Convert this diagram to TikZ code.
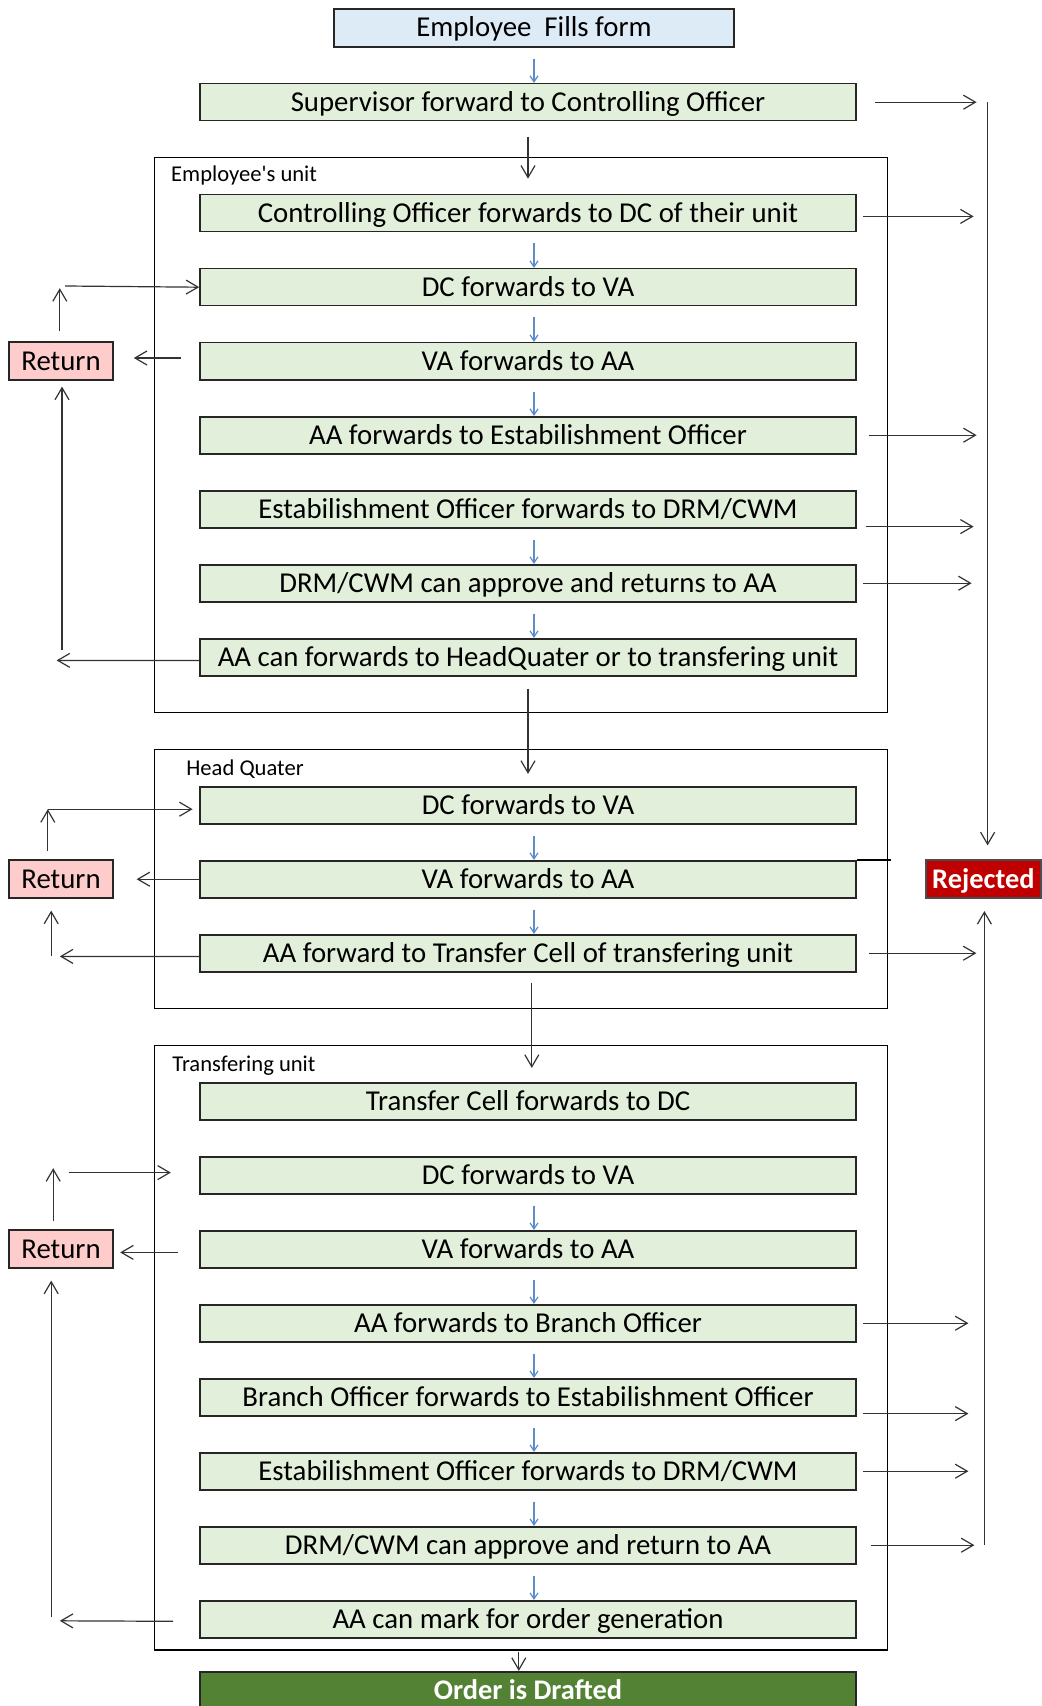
\documentclass[tikz,border=0pt]{standalone}
\usepackage{fontspec}
\setmainfont{Carlito}
\usetikzlibrary{arrows.meta,positioning}

\definecolor{formblue}{HTML}{DDEBF7}
\definecolor{stepgreen}{HTML}{E2EFDA}
\definecolor{retpink}{HTML}{FFCCCC}
\definecolor{rejred}{HTML}{C00000}
\definecolor{ordergreen}{HTML}{548235}
\definecolor{flowblue}{HTML}{5B8DC8}

\begin{document}
\begin{tikzpicture}[
            stepbox/.style={draw=black!85,line width=.8pt,fill=stepgreen,minimum width=328pt,minimum height=18.5pt,inner sep=0pt,text height=11pt,text depth=2pt,font=\fontsize{14.4}{16}\selectfont},
            formbox/.style={stepbox,fill=formblue,minimum width=200pt,minimum height=19pt},
            retbox/.style={stepbox,fill=retpink,minimum width=52pt,minimum height=19pt},
            rejbox/.style={stepbox,draw=black!70,fill=rejred,text=white,font=\fontsize{14.2}{16}\selectfont\bfseries,minimum width=57.6pt,minimum height=19pt},
            orderbox/.style={stepbox,fill=ordergreen,text=white,font=\fontsize{14.2}{16}\selectfont\bfseries},
            unit/.style={draw=black,line width=.7pt},
            lab/.style={anchor=base west,inner sep=0pt,font=\fontsize{11.3}{13}\selectfont},
            arr/.style={draw=black!80,line width=.6pt,-{Straight Barb[length=6pt,width=7pt]}},
            flow/.style={draw=flowblue,line width=.6pt,-{Straight Barb[length=3pt,width=4pt]},shorten <=5.5pt},
            node distance=37pt
          ]
          \useasboundingbox (0,0) rectangle (521pt,-853pt);

          %units
          \draw[unit] (77.2pt,-78.9pt) rectangle (443.8pt,-356.2pt);
          \draw[unit] (77.2pt,-374.7pt) rectangle (443.8pt,-504.2pt);
          \draw[unit] (77.2pt,-522.6pt) rectangle (443.8pt,-825pt);
          \node[lab] (eulab) at (85.4pt,-90.8pt) {Employee\textquotesingle s unit};
          \node[lab] (hqlab) at (93pt,-387.8pt) {Head Quater};
          \node[lab] (tulab) at (86pt,-535.7pt) {Transfering unit};

          %start
          \node[formbox] (emp) at (267pt,-13.9pt) {Employee\ \ Fills form};
          \node[stepbox] (sup) at (264pt,-51.1pt) {Supervisor forward to Controlling Officer};

          %employee's unit
          \node[stepbox,node distance=55.5pt,below of = sup] (co) {Controlling Officer forwards to DC of their unit};
          \node[stepbox,below of = co] (edc) {DC forwards to VA};
          \node[stepbox,below of = edc] (eva) {VA forwards to AA};
          \node[stepbox,below of = eva] (eaa) {AA forwards to Estabilishment Officer};
          \node[stepbox,below of = eaa] (eeo) {Estabilishment Officer forwards to DRM/CWM};
          \node[stepbox,below of = eeo] (edrm) {DRM/CWM can approve and returns to AA};
          \node[stepbox,below of = edrm] (eaa2) {AA can forwards to HeadQuater or to transfering unit};

          %head quater
          \node[stepbox,node distance=74pt,below of = eaa2] (hdc) {DC forwards to VA};
          \node[stepbox,below of = hdc] (hva) {VA forwards to AA};
          \node[stepbox,below of = hva] (haa) {AA forward to Transfer Cell of transfering unit};

          %transfering unit
          \node[stepbox,node distance=74pt,below of = haa] (tcell) {Transfer Cell forwards to DC};
          \node[stepbox,below of = tcell] (tdc) {DC forwards to VA};
          \node[stepbox,below of = tdc] (tva) {VA forwards to AA};
          \node[stepbox,below of = tva] (taa) {AA forwards to Branch Officer};
          \node[stepbox,below of = taa] (tbo) {Branch Officer forwards to Estabilishment Officer};
          \node[stepbox,below of = tbo] (teo) {Estabilishment Officer forwards to DRM/CWM};
          \node[stepbox,below of = teo] (tdrm) {DRM/CWM can approve and return to AA};
          \node[stepbox,below of = tdrm] (tmark) {AA can mark for order generation};
          \node[orderbox,node distance=35.5pt,below of = tmark] (ord) {Order is Drafted};

          %return and rejected
          \node[retbox,node distance=233.5pt,left of = eva] (ret1) {Return};
          \node[retbox,node distance=233.5pt,left of = hva] (ret2) {Return};
          \node[retbox,node distance=233.5pt,left of = tva] (ret3) {Return};
          \node[rejbox,node distance=227.7pt,right of = hva] (rj) {Rejected};

          %blue steps
          \draw[flow] (emp.south) -- (emp.south |- sup.north);
          \foreach \a/\b in {co/edc,edc/eva,eva/eaa,eeo/edrm,edrm/eaa2,hdc/hva,hva/haa,tdc/tva,tva/taa,taa/tbo,tbo/teo,teo/tdrm,tdrm/tmark}
            \draw[flow] ([xshift=3pt]\a.south) -- ([xshift=3pt]\b.north);

          %between units
          \draw[arr,shorten <=7.6pt,shorten >=7.6pt] (sup) -- (co);
          \draw[arr,shorten <=6pt,shorten >=6pt] (eaa2) -- (hdc);
          \draw[arr,shorten <=5pt,shorten >=7pt] ([xshift=1.9pt]haa.south) -- ([xshift=1.9pt]tcell.north);
          \draw[arr,shorten <=6.5pt,shorten >=0pt] ([xshift=-4.6pt]tmark.south) -- ([xshift=-4.6pt]ord.north);
          \draw[unit] (hva.north east) -- ++(17pt,0);

          %to rejected
          \coordinate (rjtop) at (493.8pt,-51.1pt);
          \coordinate (rjbot) at (492.2pt,-772.3pt);
          \draw[arr,shorten >=7pt] (rjtop) -- (rjtop |- rj.north);
          \draw[arr,shorten >=6pt] (rjbot) -- (rjbot |- rj.south);
          \draw[arr,shorten <=9pt,shorten >=5.5pt] (sup.east) -- (sup.east -| rjtop);
          \draw[arr,shorten <=3pt,shorten >=7pt] ([yshift=-1.6pt]co.east) -- ([yshift=-1.6pt]co.east -| rjtop);
          \draw[arr,shorten <=6pt,shorten >=5.5pt] (eaa.east) -- (eaa.east -| rjtop);
          \draw[arr,shorten <=4.5pt,shorten >=7pt] ([yshift=-8.7pt]eeo.east) -- ([yshift=-8.7pt]eeo.east -| rjtop);
          \draw[arr,shorten <=3pt,shorten >=8pt] (edrm.east) -- (edrm.east -| rjtop);
          \draw[arr,shorten <=6pt,shorten >=4pt] (haa.east) -- (haa.east -| rjbot);
          \draw[arr,shorten <=3pt,shorten >=8pt] (taa.east) -- (taa.east -| rjbot);
          \draw[arr,shorten <=3pt,shorten >=8pt] ([yshift=-8.2pt]tbo.east) -- ([yshift=-8.2pt]tbo.east -| rjbot);
          \draw[arr,shorten <=3pt,shorten >=8pt] (teo.east) -- (teo.east -| rjbot);
          \draw[arr,shorten <=7pt,shorten >=5pt] (tdrm.east) -- (tdrm.east -| rjbot);

          %returns, employee's unit
          \coordinate (r1up) at (29.9pt,-144.1pt);
          \coordinate (r1h) at (32.6pt,-143pt);
          \coordinate (r1low) at (28.3pt,-330.2pt);
          \coordinate (r1v) at (31pt,-325.2pt);
          \draw[arr,shorten <=5.4pt] (r1up |- ret1.north) -- (r1up);
          \draw[arr] (r1h) -- (edc.west);
          \draw[arr,shorten <=9pt,shorten >=10pt] ([yshift=1.6pt]eva.west) -- ([yshift=1.6pt]ret1.east);
          \draw[arr] ([yshift=-1.6pt]eaa2.west) -- (r1low);
          \draw[arr,shorten >=2.8pt] (r1v) -- (r1v |- ret1.south);

          %returns, head quater
          \coordinate (r2up) at (23.9pt,-404.6pt);
          \coordinate (r2low) at (29.9pt,-478.2pt);
          \coordinate (r2v) at (25.6pt,-478.2pt);
          \draw[arr,shorten <=4.3pt] (r2up |- ret2.north) -- (r2up);
          \draw[arr,shorten >=3.3pt] (r2up) -- (r2up -| hdc.west);
          \draw[arr,shorten >=11.4pt] (hva.west) -- (ret2.east);
          \draw[arr] ([yshift=-1.6pt]haa.west) -- (r2low);
          \draw[arr,shorten >=5.8pt] (r2v) -- (r2v |- ret2.south);

          %returns, transfering unit
          \coordinate (r3up) at (26.6pt,-584.1pt);
          \coordinate (r3h) at (34.3pt,-586.3pt);
          \coordinate (r3low) at (29.9pt,-810.4pt);
          \coordinate (r3v) at (25.6pt,-808.7pt);
          \draw[arr,shorten <=4.1pt] (r3up |- ret3.north) -- (r3up);
          \draw[arr,shorten >=14.2pt] (r3h) -- (r3h -| tdc.west);
          \draw[arr,shorten <=10.4pt,shorten >=3.2pt] ([yshift=-1.6pt]tva.west) -- ([yshift=-1.6pt]ret3.east);
          \draw[arr,shorten <=13pt] ([yshift=-1.1pt]tmark.west) -- (r3low);
          \draw[arr,shorten >=5.8pt] (r3v) -- (r3v |- ret3.south);
\end{tikzpicture}
\end{document}
